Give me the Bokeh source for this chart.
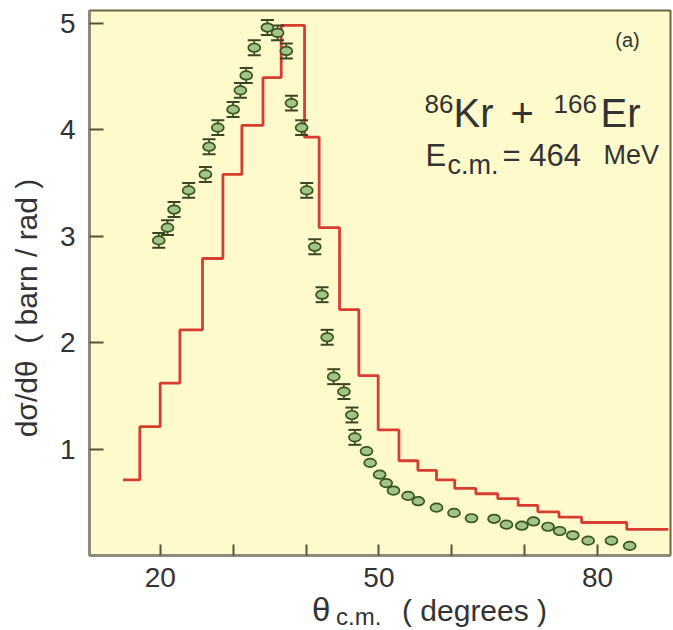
import math
from bokeh.plotting import figure
from bokeh.models import Range1d, FixedTicker, Label, Div
from bokeh.layouts import column
from bokeh.embed import file_html
from bokeh.resources import INLINE

# ---- data ----
# histogram (calculation): bin edges (deg) and heights (barn/rad)
bin_edges = [14.9, 17.2, 20.0, 22.7, 25.8, 28.6, 31.2, 34.1, 36.6, 39.8, 41.8,
             44.6, 47.25, 49.9, 52.75, 55.35, 57.9, 60.4, 63.3, 66.3, 69.1,
             71.8, 74.7, 77.8, 84.0, 89.7]
bin_values = [0.71, 1.21, 1.62, 2.12, 2.79, 3.58, 4.04, 4.49, 4.98, 3.93, 3.08,
              2.31, 1.69, 1.18, 0.89, 0.80, 0.71, 0.63, 0.58, 0.535, 0.47,
              0.41, 0.36, 0.31, 0.245]

# measured points
theta = [19.8, 21.0, 21.9, 23.9, 26.2, 26.7, 27.9, 30.0, 31.0, 31.8,
         32.9, 34.7, 36.1, 37.3, 38.0, 39.4, 40.1, 41.2, 42.2, 42.9,
         43.8, 45.2, 46.3, 46.7, 48.3, 48.8, 50.1, 51.0, 52.0, 54.0,
         55.4, 57.9, 60.3, 62.7, 65.8, 67.5, 69.6, 71.2, 73.2, 74.8,
         76.6, 78.7, 81.9, 84.4]
dsig = [2.96, 3.08, 3.25, 3.43, 3.58, 3.84, 4.02, 4.19, 4.37, 4.51,
        4.77, 4.96, 4.91, 4.74, 4.25, 4.02, 3.43, 2.90, 2.45, 2.05,
        1.68, 1.54, 1.32, 1.11, 0.98, 0.87, 0.76, 0.68, 0.61, 0.56,
        0.51, 0.45, 0.40, 0.35, 0.345, 0.29, 0.28, 0.32, 0.27, 0.23,
        0.19, 0.14, 0.14, 0.09]
# error bars (only the first points show visible bars)
dsig_err = [0.07, 0.07, 0.07, 0.07, 0.07, 0.07, 0.07, 0.07, 0.07, 0.07,
            0.07, 0.07, 0.07, 0.07, 0.07, 0.07, 0.07, 0.07, 0.07, 0.07,
            0.07, 0.07, 0.07, 0.07]

x_ticks = [20, 30, 40, 50, 60, 70, 80]
x_tick_labels = {20: "20", 30: "", 40: "", 50: "50", 60: "", 70: "", 80: "80"}
y_ticks = [1, 2, 3, 4, 5]

FONT = "Liberation Sans"
BG = "#fffacb"

p = figure(width=673, height=595, x_range=Range1d(10.3, 90.0), y_range=Range1d(0, 5.12),
           output_backend="svg", toolbar_location=None,
           min_border_left=89, min_border_right=3, min_border_top=10, min_border_bottom=40)
p.background_fill_color = BG
p.border_fill_color = "white"
p.outline_line_color = "#6b6640"
p.outline_line_width = 2
p.grid.grid_line_color = None

p.xaxis.ticker = FixedTicker(ticks=x_ticks)
p.xaxis.major_label_overrides = x_tick_labels
p.yaxis.ticker = FixedTicker(ticks=y_ticks)
for ax in (p.xaxis[0], p.yaxis[0]):
    ax.minor_tick_line_color = None
    ax.major_tick_out = 0
    ax.major_tick_line_color = "#55533a"
    ax.major_tick_line_width = 2
    ax.axis_line_color = "#8d8b7a"
    ax.axis_line_width = 3
    ax.major_label_text_font = FONT
    ax.major_label_text_font_size = "28px"
    ax.major_label_text_color = "#333333"
p.xaxis.major_tick_in = 11
p.yaxis.major_tick_in = 14
p.xaxis.major_label_standoff = 12
p.yaxis.major_label_standoff = 14

# y axis title (trailing no-break spaces shift it toward the bottom as in the reference)
p.yaxis.axis_label = "dσ/dθ\u00a0\u00a0( barn / rad )" + "\u00a0" * 6
p.yaxis.axis_label_text_font = FONT
p.yaxis.axis_label_text_font_size = "30px"
p.yaxis.axis_label_text_font_style = "normal"
p.yaxis.axis_label_text_color = "#333333"
p.yaxis.axis_label_standoff = 14

# calculation histogram
p.step(x=bin_edges, y=bin_values + [bin_values[-1]], mode="after",
       line_color="#d83d31", line_width=2.8)

# error bars
n_e = len(dsig_err)
ex = theta[:n_e]
lo = [dsig[i] - dsig_err[i] for i in range(n_e)]
hi = [dsig[i] + dsig_err[i] for i in range(n_e)]
p.segment(x0=ex, y0=lo, x1=ex, y1=hi, line_color="#3a4726", line_width=1.7)
p.scatter(x=ex + ex, y=lo + hi, marker="dash", size=13, line_color="#3a4726", line_width=2)

# points
p.ellipse(x=theta, y=dsig, width=12, height=8.5, width_units="screen", height_units="screen",
          fill_color="#a2c486", line_color="#37561f", line_width=1.7)

def px2x(px):
    return 20 + (px - 159.7) / 7.29

def lab(x, y, text, size, align="left", baseline="alphabetic", angle=0.0, color="#333333"):
    p.add_layout(Label(x=x, y=y, text=text, text_font=FONT, text_font_size=size,
                       text_align=align, text_baseline=baseline, angle=angle,
                       text_color=color))

# panel tag
lab(84.1, 4.84, "(a)", "20px", align="center", baseline="middle")
# reaction
lab(px2x(424), 4.24, "86", "26px")
lab(px2x(453), 4.154, "Kr", "40px")
lab(px2x(510), 4.154, "+", "40px")
lab(px2x(553), 4.24, "166", "26px")
lab(px2x(600), 4.154, "Er", "40px")
# energy
lab(px2x(425), 3.76, "E", "31px")
lab(px2x(447), 3.67, "c.m.", "27px")
lab(px2x(502), 3.76, "= 464", "31px")
lab(px2x(603), 3.76, "MeV", "27px")

# x axis title (HTML so the subscript can be set)
xtitle = Div(
    text=(
        '<div style="position:relative;width:673px;height:35px;'
        'font-family:\'Liberation Sans\';color:#333333;">'
        '<span style="position:absolute;left:312px;top:-2px;font-size:33px;line-height:1;">θ</span>'
        '<span style="position:absolute;left:336px;top:10px;font-size:24px;line-height:1;">c.m.</span>'
        '<span style="position:absolute;left:402px;top:1px;font-size:30px;line-height:1;white-space:pre;">( degrees )</span>'
        '</div>'
    ),
    width=673, height=35, margin=0,
)

layout = column(p, xtitle, spacing=0)
open("out.html", "w").write(file_html(layout, INLINE))
